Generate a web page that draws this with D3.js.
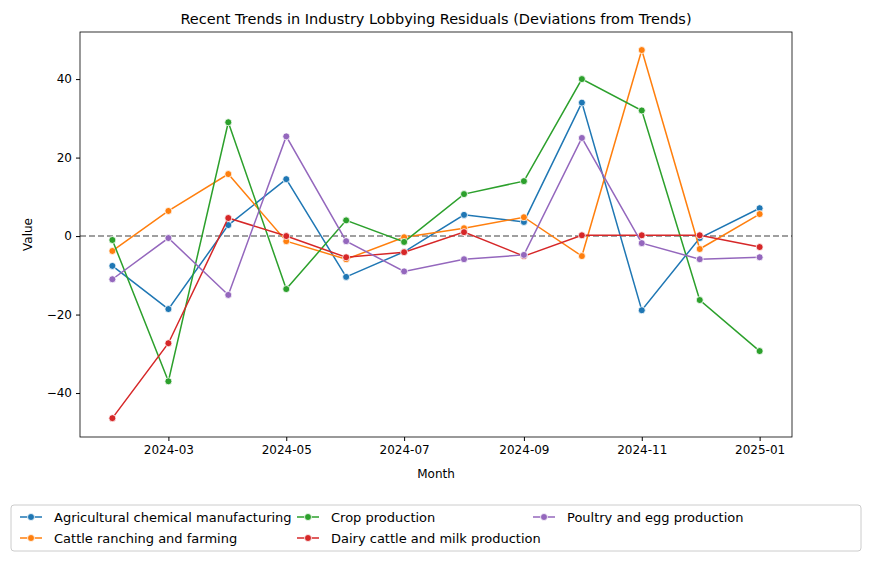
<!DOCTYPE html>
<html><head><meta charset="utf-8">
<script src="https://cdn.jsdelivr.net/npm/d3@7"></script>
<style>body{margin:0;background:#fff;font-family:"DejaVu Sans",sans-serif;}</style>
</head><body>
<svg id="chart" width="871" height="561"></svg>
<script>
const months = ["2024-02","2024-03","2024-04","2024-05","2024-06","2024-07","2024-08","2024-09","2024-10","2024-11","2024-12","2025-01"];
const agricultural = [-7.6,-18.6,2.8,14.5,-10.4,-4,5.4,3.6,34,-18.9,-0.5,7.1];
const cattle = [-3.8,6.4,15.8,-1.3,-5.9,-0.3,2,4.8,-5.1,47.4,-3.3,5.6];
const crop = [-1,-37,29,-13.5,4,-1.5,10.7,14,40,32,-16.3,-29.3];
const dairy = [-46.4,-27.3,4.6,0,-5.4,-4.1,1,-5.1,0.2,0.2,0.2,-2.8];
const poultry = [-11,-0.5,-15,25.4,-1.3,-9,-5.9,-4.8,25,-1.8,-5.9,-5.4];
const seriesNames = ["Agricultural chemical manufacturing","Cattle ranching and farming","Crop production","Dairy cattle and milk production","Poultry and egg production"];
const colors = ["#1f77b4","#ff7f0e","#2ca02c","#d62728","#9467bd"];
const xTicks = ["2024-03","2024-05","2024-07","2024-09","2024-11","2025-01"];
const yTicks = [-40,-20,0,20,40];

const parse = d3.timeParse("%Y-%m");
const dates = months.map(parse);
const allSeries = [agricultural, cattle, crop, dairy, poultry];

const svg = d3.select("#chart");
const mLeft = 80, mRight = 792, mTop = 32, mBottom = 437;

const ext = d3.extent(dates);
const pad = (ext[1] - ext[0]) * 0.05;
const x = d3.scaleTime().domain([new Date(+ext[0] - pad), new Date(+ext[1] + pad)]).range([mLeft, mRight]);
const y = d3.scaleLinear().domain([-51.2, 52]).range([mBottom, mTop]);

svg.append("g").attr("transform", `translate(0,${mBottom})`)
  .call(d3.axisBottom(x).tickValues(xTicks.map(parse)).tickFormat(d3.timeFormat("%Y-%m")).tickSize(4).tickPadding(4))
  .call(g => g.select(".domain").remove());
svg.append("g").attr("transform", `translate(${mLeft},0)`)
  .call(d3.axisLeft(y).tickValues(yTicks).tickFormat(d => d < 0 ? "\u2212" + Math.abs(d) : d).tickSize(4).tickPadding(4))
  .call(g => g.select(".domain").remove());
svg.selectAll(".tick text").attr("font-size", 12).attr("fill", "#000").attr("font-family", "DejaVu Sans");
svg.selectAll(".tick line").attr("stroke", "#000");

svg.append("line").attr("x1", mLeft).attr("x2", mRight).attr("y1", y(0)).attr("y2", y(0))
  .attr("stroke", "#808080").attr("stroke-width", 1.5).attr("stroke-dasharray", "6 3");

const line = d3.line().x((d, i) => x(dates[i])).y(d => y(d));
allSeries.forEach((s, k) => {
  svg.append("path").attr("d", line(s)).attr("fill", "none").attr("stroke", colors[k]).attr("stroke-width", 1.5);
  svg.append("g").selectAll("circle").data(s).join("circle")
    .attr("cx", (d, i) => x(dates[i])).attr("cy", d => y(d)).attr("r", 3.5)
    .attr("fill", colors[k]).attr("stroke", "#fff").attr("stroke-width", 0.8);
});

svg.append("rect").attr("x", mLeft).attr("y", mTop).attr("width", mRight - mLeft).attr("height", mBottom - mTop)
  .attr("fill", "none").attr("stroke", "#000").attr("stroke-width", 0.8);

svg.append("text").attr("x", (mLeft + mRight) / 2).attr("y", 24).attr("text-anchor", "middle")
  .attr("font-size", 14.5).text("Recent Trends in Industry Lobbying Residuals (Deviations from Trends)");
svg.append("text").attr("x", (mLeft + mRight) / 2).attr("y", 478).attr("text-anchor", "middle")
  .attr("font-size", 12).text("Month");
svg.append("text").attr("transform", `translate(32,${(mTop + mBottom) / 2}) rotate(-90)`).attr("text-anchor", "middle")
  .attr("font-size", 12).text("Value");

// legend
svg.append("rect").attr("x", 11).attr("y", 505).attr("width", 850).attr("height", 46).attr("rx", 3)
  .attr("fill", "#fff").attr("stroke", "#ccc");
const colX = [20, 297, 533];
const colOf = [0, 0, 1, 1, 2];
const rowOf = [0, 1, 0, 1, 0];
const rowY = [517, 538];
seriesNames.forEach((name, k) => {
  const g = svg.append("g").attr("transform", `translate(${colX[colOf[k]]},${rowY[rowOf[k]]})`);
  g.append("line").attr("x1", 0).attr("x2", 22).attr("stroke", colors[k]).attr("stroke-width", 1.5);
  g.append("circle").attr("cx", 11).attr("r", 3.5).attr("fill", colors[k]).attr("stroke", "#fff").attr("stroke-width", 0.8);
  g.append("text").attr("x", 34).attr("dy", "0.35em").attr("font-size", 13).text(name);
});
</script>
</body></html>
